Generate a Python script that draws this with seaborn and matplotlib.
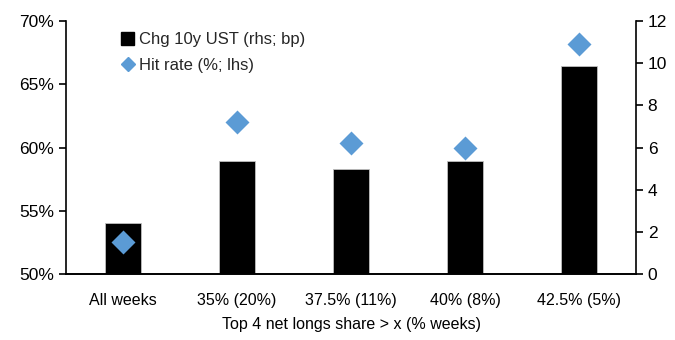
import matplotlib
matplotlib.use("Agg")
import matplotlib.pyplot as plt
import seaborn as sns
from matplotlib.patches import Patch
from matplotlib.lines import Line2D
from matplotlib.ticker import FuncFormatter

# Data
categories = ["All weeks", "35% (20%)", "37.5% (11%)", "40% (8%)", "42.5% (5%)"]
chg_10y_ust = [2.4, 5.37, 5.0, 5.37, 9.85]      # bp, right axis
hit_rate = [52.55, 62.05, 60.4, 60.0, 68.2]     # %, left axis

sns.set_theme(style="white")
plt.rcParams["font.family"] = ["Liberation Sans", "DejaVu Sans"]
plt.rcParams["font.size"] = 10.5

fig, ax = plt.subplots(figsize=(6.75, 3.4), dpi=100)
fig.subplots_adjust(left=0.098, right=0.942, bottom=0.194, top=0.938)
ax2 = ax.twinx()

# bars on the right axis, diamonds on the left axis drawn on top
sns.barplot(x=categories, y=chg_10y_ust, ax=ax2, color="black", width=0.31,
            edgecolor="#bfbfbf", linewidth=0.6, saturation=1)
sns.pointplot(x=categories, y=hit_rate, ax=ax, color="#5B9BD5",
              marker="D", linestyle="none", markersize=10)
ax.set_zorder(ax2.get_zorder() + 1)
ax.patch.set_visible(False)

ax.set_xlim(-0.5, 4.5)
ax.set_ylim(50, 70)
ax.set_yticks([50, 55, 60, 65, 70])
ax.yaxis.set_major_formatter(FuncFormatter(lambda v, p: f"{v:.0f}%"))
ax2.set_ylim(0, 12)
ax2.set_yticks(range(0, 13, 2))

for a in (ax, ax2):
    for s in a.spines.values():
        s.set_color("black")
        s.set_linewidth(1.2)
    a.spines["top"].set_visible(False)
    a.set_ylabel("")
ax.spines["right"].set_visible(False)
ax2.spines["left"].set_visible(False)

ax.tick_params(axis="y", direction="out", length=5, width=1.2, colors="black", labelsize=12.5, left=True)
ax2.tick_params(axis="y", direction="out", length=5, width=1.2, colors="black", labelsize=12.5, right=True)
ax.tick_params(axis="x", length=0, labelsize=11.5, pad=14, colors="black")
ax2.tick_params(axis="x", length=0)
ax.set_xlabel("Top 4 net longs share > x (% weeks)", fontsize=11.5, color="black", labelpad=6)
ax2.set_xlabel("")

handles = [
    Patch(facecolor="black", edgecolor="black", label="Chg 10y UST (rhs; bp)"),
    Line2D([], [], marker="D", linestyle="none", color="#5B9BD5", markersize=7,
           label="Hit rate (%; lhs)"),
]
ax.legend(handles=handles, loc="upper left", bbox_to_anchor=(0.07, 1.015), frameon=False,
          fontsize=12, handlelength=0.8, handleheight=0.8, handletextpad=0.3,
          labelspacing=0.65)

fig.savefig("out.png", dpi=100)
